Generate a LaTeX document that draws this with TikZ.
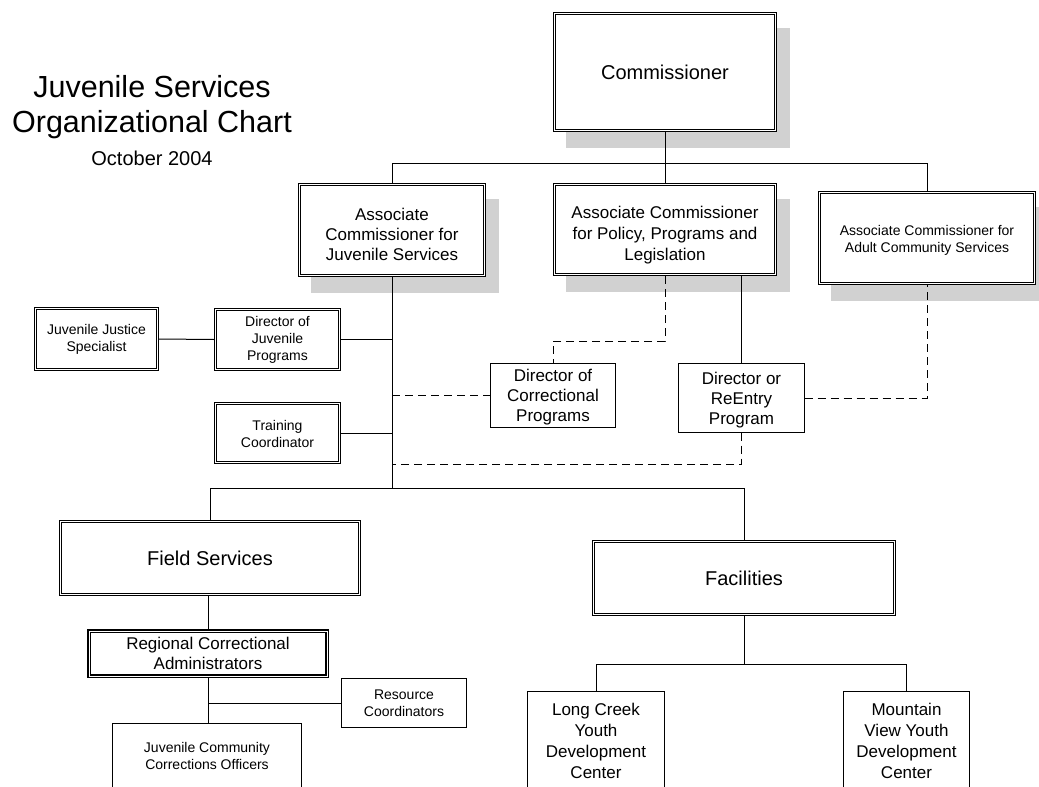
\documentclass[tikz,border=0pt]{standalone}
\usepackage{fontspec}
\setmainfont{Liberation Sans}
\usetikzlibrary{backgrounds}
\tikzset{
  fa/.style={font=\fontsize{14}{17}\selectfont},
  fb/.style={font=\fontsize{17}{20}\selectfont},
  fc/.style={font=\fontsize{20}{24}\selectfont},
  fd/.style={font=\fontsize{17}{21}\selectfont},
  box/.style={draw, rectangle, align=center, inner sep=0pt, fill=white, line width=0.9pt, outer sep=0pt},
  dbox/.style={box, double, double distance=1.6pt, line width=0.75pt, outer sep=1.5pt},
  tbox/.style={box, double, double distance=0.9pt, line width=1.3pt, outer sep=1.8pt},
  conn/.style={line width=1pt},
  dconn/.style={line width=1pt, dash pattern=on 8pt off 5pt},
  shadc/.style={fill=black!18}
}
\begin{document}
\begin{tikzpicture}[x=1pt,y=-1pt]
\useasboundingbox (0,0) rectangle (1039,787);
% title
\node[align=center, font=\fontsize{30.5}{35}\selectfont] (title) at (152,107) {Juvenile Services\\Organizational Chart};
\node[font=\fontsize{20}{24}\selectfont] (date) at (152,158) {October 2004};
% boxes
\node[dbox, fc, minimum width=221pt, minimum height=117pt] (comm) at (665,72) {Commissioner};
\node[dbox, fb, minimum width=185pt, minimum height=91pt] (aj) at (392,230) {\rule{0pt}{22pt}Associate\\Commissioner for\\Juvenile Services};
\node[dbox, fd, minimum width=221pt, minimum height=90pt] (ap) at (665,229.5) {\rule{0pt}{24pt}Associate Commissioner\\for Policy, Programs and\\Legislation};
\node[dbox, fa, minimum width=215pt, minimum height=91pt] (aa) at (927,238) {\rule{0pt}{14pt}Associate Commissioner for\\Adult Community Services};
\node[dbox, fa, minimum width=122pt, minimum height=61pt] (jjs) at (96.5,339) {Juvenile Justice\\Specialist};
\node[dbox, fa, minimum width=124pt, minimum height=60pt] (djp) at (277.5,339.5) {Director of\\Juvenile\\Programs};
\node[dbox, fa, minimum width=124pt, minimum height=59pt] (tc) at (277.5,433) {\rule{0pt}{13pt}Training\\Coordinator};
\node[box, fb, minimum width=125pt, minimum height=64pt] (dcp) at (553,395.5) {\rule{0pt}{16pt}Director of\\Correctional\\Programs};
\node[box, fb, minimum width=126pt, minimum height=69pt] (dre) at (741.5,398) {\rule{0pt}{17pt}Director or\\ReEntry\\Program};
\node[dbox, fc, minimum width=299pt, minimum height=73pt] (fs) at (210,558) {Field Services};
\node[tbox, fb, minimum width=238pt, minimum height=45pt] (rca) at (208,653.5) {Regional Correctional\\Administrators};
\node[box, fa, minimum width=125pt, minimum height=49pt] (rc) at (404,703) {Resource\\Coordinators};
\node[box, fa, minimum width=189pt, minimum height=66pt] (jcco) at (207,756) {Juvenile Community\\Corrections Officers};
\node[dbox, fc, minimum width=301pt, minimum height=73pt] (fac) at (744,578) {Facilities};
\node[box, fd, minimum width=137pt, minimum height=100pt] (lc) at (596,741) {Long Creek\\Youth\\Development\\Center};
\node[box, fd, minimum width=126pt, minimum height=100pt] (mv) at (906.5,741) {Mountain\\View Youth\\Development\\Center};
% shadows
\begin{scope}[on background layer]
\foreach \n in {comm,aj,ap,aa}
  \fill[shadc] ([shift={(13,16)}]\n.north west) rectangle ([shift={(13,16)}]\n.south east);
\end{scope}
% bus coordinates
\coordinate (b1) at (665,163);
\coordinate (b2) at (392,488);
\coordinate (b3) at (744,664);
\coordinate (c1) at (553,341);
\coordinate (c2) at (392,464);
% connectors
\draw[conn] (comm.south) -- (ap.north);
\draw[conn] (aj.north) -- (aj.north |- b1) -- (aa.north |- b1) -- (aa.north);
\draw[conn] (aj.south) -- (aj.south |- b2);
\draw[conn] (fs.north) -- (fs.north |- b2) -- (fac.north |- b2) -- (fac.north);
\draw[conn] (jjs.east) -- (djp.west);
\draw[conn] (djp.east) -- (djp.east -| aj.south);
\draw[conn] (tc.east) -- (tc.east -| aj.south);
\draw[dconn] (ap.south) -- (ap.south |- c1) -- (c1) -- (dcp.north);
\draw[conn] (dre.north |- ap.south) -- (dre.north);
\draw[dconn] (dcp.west) -- (dcp.west -| aj.south);
\draw[dconn] (dre.south) -- (dre.south |- c2) -- (c2);
\draw[dconn] (dre.east) -- (dre.east -| aa.south) -- (aa.south);
\draw[conn] (rca.north |- fs.south) -- (rca.north);
\draw[conn] (rca.south) -- (rca.south |- jcco.north);
\draw[conn] (rc.west) -- (rc.west -| rca.south);
\draw[conn] (fac.south) -- (b3);
\draw[conn] (lc.north) -- (lc.north |- b3) -- (mv.north |- b3) -- (mv.north);
\end{tikzpicture}
\end{document}
